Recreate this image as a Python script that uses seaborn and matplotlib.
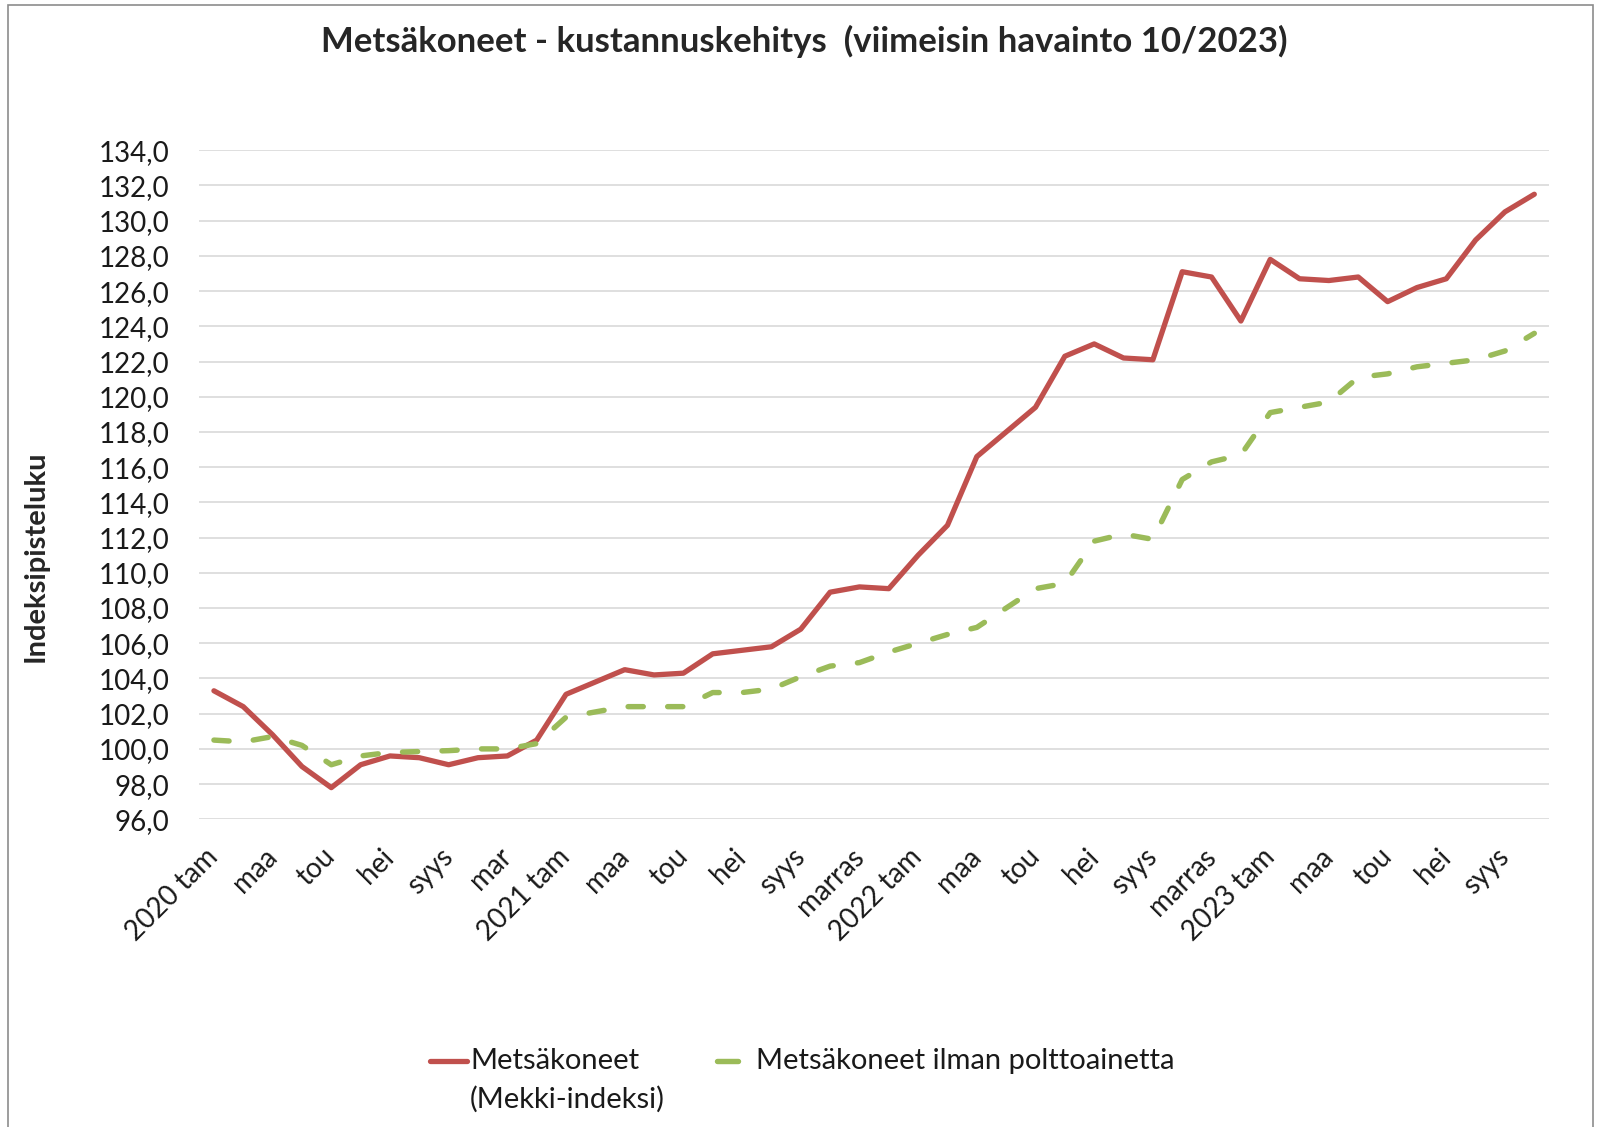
import numpy as np
import pandas as pd
import seaborn as sns
import matplotlib.pyplot as plt
from matplotlib.patches import Rectangle
from matplotlib.lines import Line2D

# Monthly index values 1/2020 - 10/2023
metsakoneet = [103.3, 102.4, 100.8, 99.0, 97.8, 99.1, 99.6, 99.5, 99.1, 99.5, 99.6, 100.5,
               103.1, 103.8, 104.5, 104.2, 104.3, 105.4, 105.6, 105.8, 106.8, 108.9, 109.2, 109.1,
               111.0, 112.7, 116.6, 118.0, 119.4, 122.3, 123.0, 122.2, 122.1, 127.1, 126.8, 124.3,
               127.8, 126.7, 126.6, 126.8, 125.4, 126.2, 126.7, 128.9, 130.5, 131.5]
ilman_polttoainetta = [100.5, 100.4, 100.7, 100.2, 99.1, 99.6, 99.8, 99.85, 99.9, 100.0, 100.0, 100.3,
                       101.8, 102.1, 102.4, 102.4, 102.4, 103.2, 103.2, 103.4, 104.1, 104.7, 104.9, 105.5,
                       106.0, 106.5, 106.9, 108.0, 109.1, 109.4, 111.8, 112.2, 111.9, 115.3, 116.3, 116.7,
                       119.1, 119.4, 119.7, 121.1, 121.3, 121.7, 121.9, 122.1, 122.6, 123.6]
tick_labels = ['2020 tam', 'maa', 'tou', 'hei', 'syys', 'mar',
               '2021 tam', 'maa', 'tou', 'hei', 'syys', 'marras',
               '2022 tam', 'maa', 'tou', 'hei', 'syys', 'marras',
               '2023 tam', 'maa', 'tou', 'hei', 'syys']
series_names = ['Metsäkoneet', 'Metsäkoneet ilman polttoainetta']

red = '#C0504D'
green = '#9BBB59'

df = pd.DataFrame({'kk': np.arange(len(metsakoneet)),
                   series_names[0]: metsakoneet,
                   series_names[1]: ilman_polttoainetta})

sns.set_theme(style='white')
plt.rcParams['font.family'] = ['Lato', 'DejaVu Sans']

fig = plt.figure(figsize=(16.03, 11.27), dpi=100)
ax = fig.add_axes([0.1243, 0.273, 0.8420, 0.5937])

sns.lineplot(data=df, x='kk', y=series_names[0], ax=ax, color=red, linewidth=3.8,
             solid_capstyle='round', solid_joinstyle='round')
sns.lineplot(data=df, x='kk', y=series_names[1], ax=ax, color=green, linewidth=3.9,
             dashes=(2.8, 4.5), dash_capstyle='round', dash_joinstyle='round')

ax.set_xlim(-0.5, len(metsakoneet) - 0.5)
ax.set_ylim(96, 134)
yt = np.arange(96, 135, 2)
ax.set_yticks(yt)
ax.set_yticklabels([f'{v:.1f}'.replace('.', ',') for v in yt])
ax.set_xticks(np.arange(0, len(metsakoneet), 2))
ax.set_xticklabels(tick_labels, rotation=45, ha='right', va='center', rotation_mode='anchor')
ax.tick_params(axis='both', labelsize=20, length=0, colors='#1a1a1a')
ax.tick_params(axis='x', pad=24)
ax.tick_params(axis='y', pad=21.5)
ax.grid(axis='y', color='#D9D9D9', linewidth=1.2)
ax.set_axisbelow(True)
sns.despine(ax=ax, left=True, bottom=True)
ax.set_xlabel('')
ax.set_ylabel('')

fig.text(0.502, 0.9636, 'Metsäkoneet - kustannuskehitys  (viimeisin havainto 10/2023)',
         ha='center', va='center', fontsize=25, fontweight='bold')
fig.text(0.0225, 0.506, 'Indeksipisteluku', rotation=90, ha='center', va='center',
         fontsize=21, fontweight='bold')

# legend below the plot, placed like the original
W, H = 1603, 1127
y1 = 1 - 1061 / H
y2 = 1 - 1099 / H
fig.add_artist(Line2D([430 / W, 467 / W], [y1, y1], transform=fig.transFigure,
                      color=red, linewidth=3.8, solid_capstyle='round'))
fig.text(470 / W, y1, series_names[0], ha='left', va='center', fontsize=21, color='#1a1a1a')
fig.text(470 / W, y2, '(Mekki-indeksi)', ha='left', va='center', fontsize=21, color='#1a1a1a')
fig.add_artist(Line2D([717 / W, 738 / W], [y1, y1], transform=fig.transFigure,
                      color=green, linewidth=3.9, solid_capstyle='round'))
fig.text(756 / W, y1, series_names[1], ha='left', va='center', fontsize=21, color='#1a1a1a')

fig.add_artist(Rectangle((0.005, -0.01), 0.989, 1.006, transform=fig.transFigure,
                         fill=False, edgecolor='#8c8c8c', linewidth=1.2))

fig.savefig('out.png', dpi=100)
